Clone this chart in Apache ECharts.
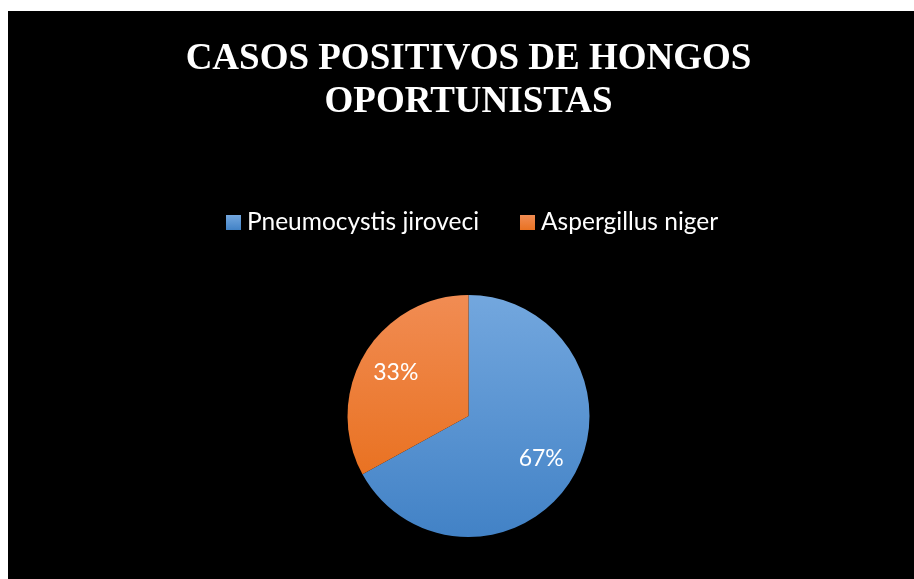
<!DOCTYPE html>
<html>
<head>
<meta charset="utf-8">
<script src="https://cdn.jsdelivr.net/npm/echarts@6/dist/echarts.min.js"></script>
<style>
  html, body { margin: 0; padding: 0; background: #ffffff; overflow: hidden; width: 914px; height: 579px; }
  #chart { position: absolute; left: 8px; top: 11px; width: 921px; height: 568px; background: #000000; }
</style>
</head>
<body>
<div id="chart"></div>
<script>
const titleLines = ['CASOS POSITIVOS DE HONGOS', 'OPORTUNISTAS'];
const categories = ['Pneumocystis jiroveci', 'Aspergillus niger'];
const values = [67, 33];
const labels = ['67%', '33%'];

const fills = [
  new echarts.graphic.LinearGradient(0, 0, 0, 1, [
    { offset: 0, color: '#73a7de' },
    { offset: 1, color: '#4282c6' }
  ]),
  new echarts.graphic.LinearGradient(0, 0, 0, 1, [
    { offset: 0, color: '#f18c53' },
    { offset: 1, color: '#e97222' }
  ])
];

const pieData = categories.map((name, i) => ({
  name: name,
  value: values[i],
  itemStyle: { color: fills[i] }
}));

const labelData = categories.map((name, i) => ({
  name: name,
  value: values[i],
  label: { formatter: labels[i] }
}));

const chart = echarts.init(document.getElementById('chart'), null, { renderer: 'canvas' });
chart.setOption({
  backgroundColor: '#000000',
  animation: false,
  title: {
    text: titleLines.join('\n'),
    left: 'center',
    top: 22,
    textStyle: {
      color: '#ffffff',
      fontFamily: 'Liberation Serif',
      fontWeight: 'bold',
      fontSize: 37,
      lineHeight: 43
    }
  },
  legend: {
    data: categories,
    left: 218,
    top: 199,
    padding: 0,
    itemWidth: 15,
    itemHeight: 15,
    itemGap: 41,
    icon: 'rect',
    textStyle: {
      color: '#ffffff',
      fontFamily: 'Lato',
      fontSize: 24.5,
      padding: [0, 0, 0, 1]
    }
  },
  series: [
    {
      type: 'pie',
      center: [460.5, 405],
      radius: [0, 121],
      startAngle: 90,
      clockwise: true,
      silent: true,
      label: { show: false },
      labelLine: { show: false },
      itemStyle: { borderWidth: 0 },
      data: pieData
    },
    {
      type: 'pie',
      center: [460.5, 405],
      radius: [42, 121],
      startAngle: 90,
      clockwise: true,
      silent: true,
      legendHoverLink: false,
      itemStyle: { color: 'rgba(0,0,0,0)', borderWidth: 0 },
      label: {
        show: true,
        position: 'inside',
        color: '#ffffff',
        fontFamily: 'Lato',
        fontSize: 23
      },
      labelLine: { show: false },
      data: labelData
    }
  ]
});
</script>
</body>
</html>
